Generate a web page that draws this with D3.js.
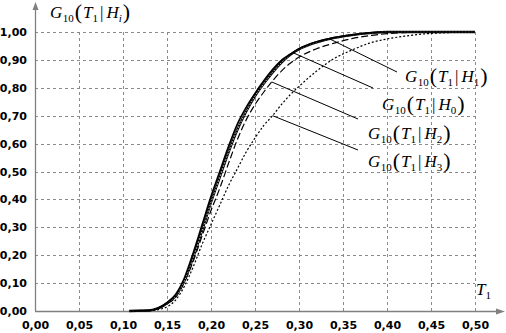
<!DOCTYPE html>
<html>
<head>
<meta charset="utf-8">
<script src="https://cdn.jsdelivr.net/npm/d3@7"></script>
<style>
  body { margin: 0; background: #fff; }
  svg { display: block; }
  .math { font-family: "Liberation Serif", "DejaVu Serif", serif; }
</style>
</head>
<body>
<svg id="chart" width="506" height="333"></svg>
<script>
// Argument values T1
const tValues = [0.107, 0.12, 0.13, 0.14, 0.15, 0.16, 0.17, 0.18, 0.19, 0.20, 0.21, 0.22, 0.23, 0.24, 0.25,
                 0.26, 0.27, 0.28, 0.29, 0.30, 0.32, 0.34, 0.36, 0.38, 0.40, 0.42, 0.45, 0.50];

// G10(T1 | H0) - solid
const gH0 = [0, 0.001, 0.002, 0.01, 0.03, 0.06, 0.12, 0.21, 0.31, 0.41, 0.50, 0.59, 0.67, 0.73, 0.78,
             0.825, 0.865, 0.898, 0.92, 0.94, 0.965, 0.98, 0.99, 0.997, 1.0, 1.0, 1.0, 1.0];
// G10(T1 | H1) - chain of small rings
const gH1 = [0, 0.001, 0.002, 0.01, 0.028, 0.055, 0.11, 0.195, 0.29, 0.39, 0.48, 0.57, 0.65, 0.715, 0.77,
             0.815, 0.855, 0.89, 0.918, 0.938, 0.963, 0.979, 0.989, 0.996, 1.0, 1.0, 1.0, 1.0];
// G10(T1 | H2) - dashed
const gH2 = [0, 0.001, 0.002, 0.008, 0.025, 0.05, 0.105, 0.18, 0.27, 0.36, 0.44, 0.53, 0.615, 0.685, 0.74,
             0.785, 0.825, 0.86, 0.888, 0.91, 0.94, 0.96, 0.976, 0.987, 0.994, 0.998, 1.0, 1.0];
// G10(T1 | H3) - dotted
const gH3 = [0, 0.001, 0.002, 0.005, 0.015, 0.04, 0.09, 0.16, 0.24, 0.31, 0.38, 0.45, 0.51, 0.57, 0.62,
             0.665, 0.70, 0.74, 0.775, 0.805, 0.86, 0.905, 0.935, 0.96, 0.975, 0.985, 0.995, 1.0];

const xTicks = [0, 0.05, 0.10, 0.15, 0.20, 0.25, 0.30, 0.35, 0.40, 0.45, 0.50];
const yTicks = [0, 0.1, 0.2, 0.3, 0.4, 0.5, 0.6, 0.7, 0.8, 0.9, 1.0];

const svg = d3.select("#chart");
const x = d3.scaleLinear().domain([0, 0.5]).range([35, 475]);
const y = d3.scaleLinear().domain([0, 1]).range([311, 32]);
const comma = d => d3.format(".2f")(d).replace(".", ",");
const gridColor = "#8a8a8a";
const axisColor = "#808080";

// Grid
const grid = svg.append("g").attr("stroke", gridColor).attr("stroke-width", 1)
  .attr("stroke-dasharray", "3,3").attr("shape-rendering", "crispEdges");
grid.selectAll("line.v").data(xTicks.filter(d => d > 0)).join("line")
  .attr("x1", d => Math.round(x(d)) + 0.5).attr("x2", d => Math.round(x(d)) + 0.5)
  .attr("y1", y(0)).attr("y2", y(1));
grid.selectAll("line.h").data(yTicks.filter(d => d > 0)).join("line")
  .attr("x1", x(0)).attr("x2", x(0.5))
  .attr("y1", d => Math.round(y(d)) + 0.5).attr("y2", d => Math.round(y(d)) + 0.5);

// Tick labels through d3 axes
const xAxis = svg.append("g").attr("transform", `translate(0,${y(0)})`)
  .call(d3.axisBottom(x).tickValues(xTicks).tickFormat(comma).tickSize(0).tickPadding(10));
const yAxis = svg.append("g").attr("transform", `translate(${x(0)},0)`)
  .call(d3.axisLeft(y).tickValues(yTicks).tickFormat(comma).tickSize(0).tickPadding(8));
[xAxis, yAxis].forEach(a => {
  a.select(".domain").remove();
  a.selectAll("text").attr("font-family", "DejaVu Sans").attr("font-weight", "bold")
    .attr("font-size", 11).attr("fill", "#000");
});

// Axis lines with arrow heads
const ax = svg.append("g").attr("stroke", axisColor).attr("fill", axisColor);
ax.append("line").attr("x1", x(0) + 0.5).attr("x2", x(0) + 0.5).attr("y1", y(0)).attr("y2", 8)
  .attr("stroke-width", 1.3);
ax.append("path").attr("stroke", "none")
  .attr("d", `M${x(0) + 0.5},2 L${x(0) - 2.5},10 L${x(0) + 3.5},10 Z`);
ax.append("line").attr("x1", x(0)).attr("x2", 498).attr("y1", y(0) + 0.5).attr("y2", y(0) + 0.5)
  .attr("stroke-width", 1.3);
ax.append("path").attr("stroke", "none")
  .attr("d", `M505,${y(0) + 0.5} L496,${y(0) - 2.5} L496,${y(0) + 3.5} Z`);

// Curves
const line = d3.line().x((d, i) => x(tValues[i])).y(d => y(d)).curve(d3.curveMonotoneX);
const curves = svg.append("g").attr("fill", "none");
curves.append("path").attr("d", line(gH3)).attr("stroke", "#000").attr("stroke-width", 1.2)
  .attr("stroke-dasharray", "2,2");
curves.append("path").attr("d", line(gH2)).attr("stroke", "#000").attr("stroke-width", 1.2)
  .attr("stroke-dasharray", "7,3");
curves.append("path").attr("d", line(gH1)).attr("stroke", "#000").attr("stroke-width", 2.4);
curves.append("path").attr("d", line(gH1)).attr("stroke", "#fff").attr("stroke-width", 0.8)
  .attr("stroke-dasharray", "1.6,1.6");
curves.append("path").attr("d", line(gH0)).attr("stroke", "#000").attr("stroke-width", 1.7);

// Value of a series at T (linear between stored points)
function valueAt(series, t) {
  const i = d3.bisectRight(tValues, t) - 1;
  const t0 = tValues[i], t1 = tValues[i + 1];
  return series[i] + (series[i + 1] - series[i]) * (t - t0) / (t1 - t0);
}

// Math-style label G10(T1 | Hk)
function mathLabel(px, py, sub, subItalic) {
  const t = svg.append("text").attr("class", "math").attr("x", px).attr("y", py)
    .attr("font-size", 17).attr("fill", "#000");
  t.append("tspan").attr("font-style", "italic").text("G");
  t.append("tspan").attr("font-size", 11).attr("dy", 4).attr("dx", 0.5).text("10");
  t.append("tspan").attr("font-size", 22).attr("dy", -3).attr("dx", 1).text("(");
  t.append("tspan").attr("font-style", "italic").attr("dy", -1).attr("dx", 1).text("T");
  t.append("tspan").attr("font-size", 11).attr("dy", 4).text("1");
  t.append("tspan").attr("dy", -4).attr("dx", 2).text("|");
  t.append("tspan").attr("font-style", "italic").attr("dx", 3).text("H");
  t.append("tspan").attr("font-size", 11).attr("dy", 4)
    .attr("font-style", subItalic ? "italic" : "normal").text(sub);
  t.append("tspan").attr("font-size", 22).attr("dy", -3).attr("dx", 1).text(")");
}

mathLabel(50, 18, "i", true);

// Series labels with leader lines
const labels = [
  { sub: "1", series: gH1, t: 0.335, lx: 405, ly: 82, ex: 397, ey: 72 },
  { sub: "0", series: gH0, t: 0.293, lx: 382, ly: 110, ex: 373, ey: 88 },
  { sub: "2", series: gH2, t: 0.269, lx: 368, ly: 139, ex: 358, ey: 119 },
  { sub: "3", series: gH3, t: 0.270, lx: 368, ly: 167, ex: 358, ey: 150 }
];
labels.forEach(l => {
  svg.append("line").attr("x1", x(l.t)).attr("y1", y(valueAt(l.series, l.t)))
    .attr("x2", l.ex).attr("y2", l.ey).attr("stroke", "#000").attr("stroke-width", 1);
  mathLabel(l.lx, l.ly, l.sub, false);
});

// Axis title T1
const tt = svg.append("text").attr("class", "math").attr("x", 476).attr("y", 295)
  .attr("font-size", 17).attr("fill", "#000");
tt.append("tspan").attr("font-style", "italic").text("T");
tt.append("tspan").attr("font-size", 11).attr("dy", 4).text("1");
</script>
</body>
</html>
